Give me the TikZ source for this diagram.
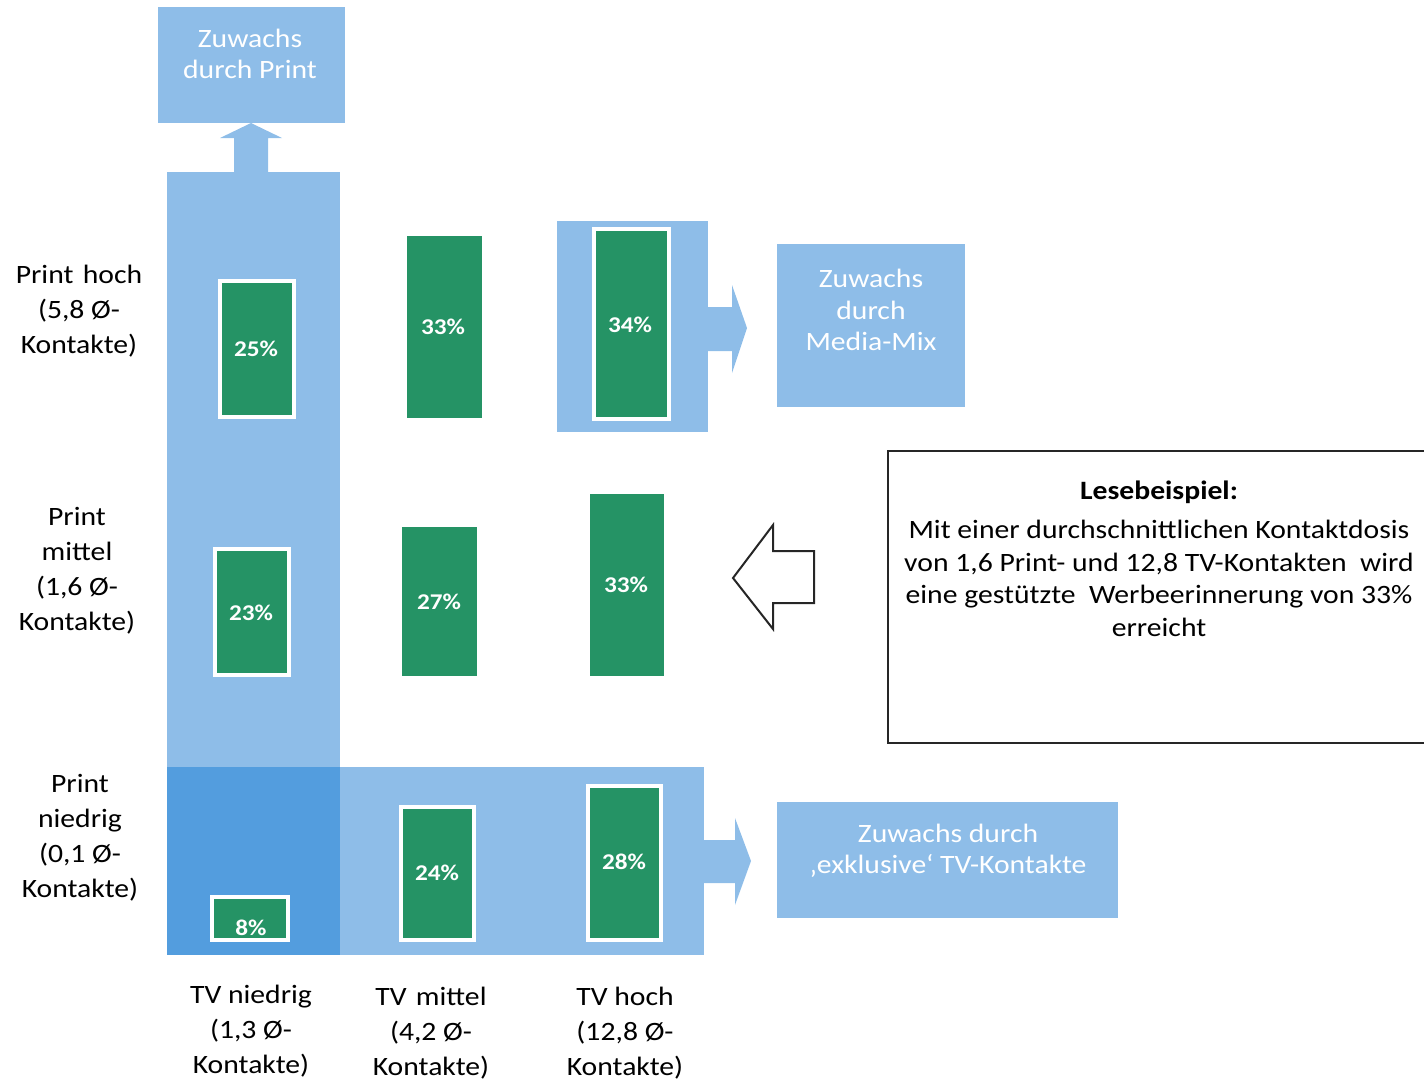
\documentclass[tikz,border=0pt]{standalone}
\usepackage{fontspec}
\setmainfont{Carlito}[FakeStretch=1.12]
\definecolor{lblue}{RGB}{142,189,232}
\definecolor{dblue}{RGB}{83,157,222}
\definecolor{bargreen}{RGB}{37,147,101}
\begin{document}
\begin{tikzpicture}[x=1pt,y=-1pt,
  box/.style={fill=lblue, draw=none},
  barb/.style={fill=bargreen, draw=white, line width=4pt},
  barp/.style={fill=bargreen, draw=none},
  pct/.style={text=white, inner sep=0pt, font=\fontsize{22.5}{26}\selectfont\bfseries},
  lab/.style={align=center, inner sep=0pt, font=\fontsize{26.5}{35}\selectfont},
  wlab/.style={align=center, inner sep=0pt, text=white, font=\fontsize{26.5}{31.5}\selectfont},
  note/.style={align=center, inner sep=0pt, font=\fontsize{26.5}{32.5}\selectfont},
]
\useasboundingbox (0,0) rectangle (1424,1080);

% background blue shapes
\fill[box] (158,7) rectangle (345,123);
\fill[box] (251,123) -- (282,138) -- (268,138) -- (268,172) -- (234,172) -- (234,138) -- (220,138) -- cycle;
\fill[box] (167,172) rectangle (340,955);
\fill[box] (340,767) rectangle (704,955);
\fill[dblue] (167,767) rectangle (340,955);
\fill[box] (704,840) -- (735,840) -- (735,818) -- (751,861) -- (735,905) -- (735,883) -- (704,883) -- cycle;
\fill[box] (557,221) rectangle (708,432);
\fill[box] (708,307) -- (732,307) -- (732,285) -- (747,328) -- (732,373) -- (732,351) -- (708,351) -- cycle;
\fill[box] (777,244) rectangle (965,407);
\fill[box] (777,802) rectangle (1118,918);

% box texts
\node[wlab] (tPrint) at (250,54) {Zuwachs\\durch Print};
\node[wlab] (tMix) at (871,310) {Zuwachs\\durch\\Media-Mix};
\node[wlab] (tTV) at (948,851) {Zuwachs durch\\‚exklusive‘ TV-Kontakte};

% bars
\draw[barb] (220,281) rectangle (294,417); \node[pct] (p25) at (256,349) {25\%};
\fill[barp] (407,236) rectangle (482,418); \node[pct] (p33a) at (443,327) {33\%};
\draw[barb] (594,229) rectangle (669,419); \node[pct] (p34) at (630,325) {34\%};
\draw[barb] (215,549) rectangle (289,675); \node[pct] (p23) at (251,613) {23\%};
\fill[barp] (402,527) rectangle (477,676); \node[pct] (p27) at (439,602) {27\%};
\fill[barp] (590,494) rectangle (664,676); \node[pct] (p33b) at (626,585) {33\%};
\draw[barb] (212,897) rectangle (288,940); \node[pct] (p8) at (251,928) {8\%};
\draw[barb] (401,807) rectangle (474,940); \node[pct] (p24) at (437,873) {24\%};
\draw[barb] (588,786) rectangle (661,940); \node[pct] (p28) at (624,862) {28\%};

% row labels
\node[lab] (r1) at (79,311) {Print\hspace{0.35em}hoch\\(5,8 Ø-\\Kontakte)};
\node[lab] (r2) at (77,571) {Print\\mittel\\(1,6 Ø-\\Kontakte)};
\node[lab] (r3) at (80,838) {Print\\niedrig\\(0,1 Ø-\\Kontakte)};
% column labels
\node[lab] (c1) at (251,1031) {TV niedrig\\(1,3 Ø-\\Kontakte)};
\node[lab] (c2) at (431,1033) {TV\hspace{0.35em}mittel\\(4,2 Ø-\\Kontakte)};
\node[lab] (c3) at (625,1033) {TV hoch\\(12,8 Ø-\\Kontakte)};

% hollow arrow
\draw[line width=2pt, draw=black!85, fill=white, line join=miter]
  (733,578) -- (773,525) -- (773,551) -- (814,551) -- (814,603) -- (773,603) -- (773,629) -- cycle;

% reading example box
\draw[line width=2pt, draw=black!85] (1440,451) -- (888,451) -- (888,743) -- (1440,743);
\node[note, font=\fontsize{26.5}{32.5}\selectfont\bfseries] (lt) at (1159,492) {Lesebeispiel:};
\node[note, anchor=north] (lb) at (1159,520) {Mit einer durchschnittlichen Kontaktdosis\\von 1,6 Print- und 12,8 TV-Kontakten\ \ wird\\eine gestützte\ \ Werbeerinnerung von 33\%\\erreicht};
\end{tikzpicture}
\end{document}
